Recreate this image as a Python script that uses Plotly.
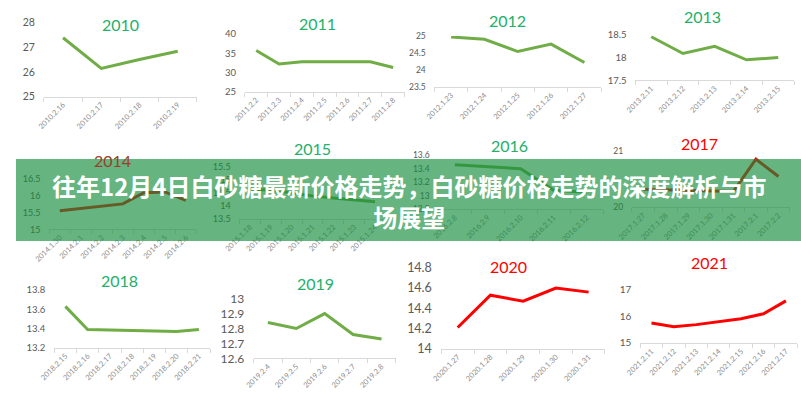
import plotly.graph_objects as go

W, H = 801, 400

# ---------------- data ----------------
dates_2010 = ["2010.2.16", "2010.2.17", "2010.2.18", "2010.2.19"]
price_2010 = [27.38, 26.14, 26.5, 26.83]

dates_2011 = ["2011.2.2", "2011.2.3", "2011.2.4", "2011.2.5", "2011.2.6", "2011.2.7", "2011.2.8"]
price_2011 = [35.7, 32.2, 32.8, 32.8, 32.8, 32.8, 31.3]

dates_2012 = ["2012.1.23", "2012.1.24", "2012.1.25", "2012.1.26", "2012.1.27"]
price_2012 = [24.97, 24.9, 24.54, 24.76, 24.22]

dates_2013 = ["2013.2.11", "2013.2.12", "2013.2.13", "2013.2.14", "2013.2.15"]
price_2013 = [18.46, 18.09, 18.25, 17.95, 18.0]

dates_2014 = ["2014.1.30", "2014.2.1", "2014.2.2", "2014.2.3", "2014.2.4", "2014.2.5", "2014.2.6"]
price_2014 = [15.55, 15.62, 15.68, 15.75, 16.08, 16.1, 15.85]

dates_2015 = ["2015.1.18", "2015.1.19", "2015.1.20", "2015.1.21", "2015.1.22", "2015.1.23", "2015.1.24"]
price_2015 = [14.65, 14.6, 14.5, 14.38, 14.3, 14.22, 14.16]

dates_2016 = ["2016.2.8", "2016.2.9", "2016.2.10", "2016.2.11", "2016.2.12"]
price_2016 = [13.46, 13.43, 13.4, 13.08, 13.05]

dates_2017 = ["2017.1.27", "2017.1.28", "2017.1.29", "2017.1.30", "2017.1.31", "2017.2.1", "2017.2.2"]
price_2017 = [20.32, 20.31, 20.3, 20.29, 20.28, 20.86, 20.55]

dates_2018 = ["2018.2.15", "2018.2.16", "2018.2.17", "2018.2.18", "2018.2.19", "2018.2.20", "2018.2.21"]
price_2018 = [13.63, 13.39, 13.385, 13.38, 13.375, 13.37, 13.39]

dates_2019 = ["2019.2.4", "2019.2.5", "2019.2.6", "2019.2.7", "2019.2.8"]
price_2019 = [12.84, 12.8, 12.9, 12.76, 12.73]

dates_2020 = ["2020.1.27", "2020.1.28", "2020.1.29", "2020.1.30", "2020.1.31"]
price_2020 = [14.21, 14.53, 14.47, 14.6, 14.56]

dates_2021 = ["2021.2.11", "2021.2.12", "2021.2.13", "2021.2.14", "2021.2.15", "2021.2.16", "2021.2.17"]
price_2021 = [15.74, 15.6, 15.68, 15.78, 15.9, 16.08, 16.56]

years = ["2010", "2011", "2012", "2013", "2014", "2015", "2016", "2017", "2018", "2019", "2020", "2021"]
all_dates = [dates_2010, dates_2011, dates_2012, dates_2013, dates_2014, dates_2015,
             dates_2016, dates_2017, dates_2018, dates_2019, dates_2020, dates_2021]
all_prices = [price_2010, price_2011, price_2012, price_2013, price_2014, price_2015,
              price_2016, price_2017, price_2018, price_2019, price_2020, price_2021]
y_ranges = [(25, 28), (25, 40), (23.5, 25), (17.5, 18.5), (15, 16.5), (13.5, 15.5),
             (12.8, 13.6), (20, 21), (13.2, 13.8), (12.6, 13.0), (14.0, 14.8), (15, 17)]
y_steps = [1, 5, 0.5, 0.5, 0.5, 0.5, 0.2, 1, 0.2, 0.1, 0.2, 1]

main_title = "往年12月4日白砂糖最新价格走势，白砂糖价格走势的深度解析与市<br>场展望"

# ---------------- layout / style (pixels) ----------------
# plot box: left, right, bottom(axis), top(max tick)
boxes = [(28.5, 184.5, 92, 15), (233.5, 396.5, 87, 27), (427, 597, 82, 29), (632, 794, 75, 28),
         (34, 184, 230, 177), (228, 377, 219, 165), (431, 599, 209, 153), (628.5, 789.5, 207, 149),
         (39, 198, 353, 293), (242.5, 387.5, 364, 302), (434, 601, 354, 270), (637, 797, 348, 292)]
title_pos = [(107, 17), (308, 16), (502, 13), (700, 9), (98, 158), (303, 146), (504, 143), (697, 141),
             (106, 283), (306, 286), (503, 269), (708, 264)]
ytick_size = [10.5, 9.5, 8.5, 9.5, 9, 9, 8.5, 8.5, 9.5, 12, 12.5, 10]
GREEN_LINE = "#70AD47"
GREEN_TITLE = "#22B06A"
RED = "#FF0000"
line_colors = [GREEN_LINE] * 4 + [RED, GREEN_LINE, GREEN_LINE, RED, GREEN_LINE, GREEN_LINE, RED, RED]
title_colors = [GREEN_TITLE] * 4 + ["#9B3D2A", GREEN_TITLE, GREEN_TITLE, RED, GREEN_TITLE, GREEN_TITLE, RED, RED]

fig = go.Figure()
layout = {}
annotations = []
for i in range(12):
    k = i + 1
    sx = "" if k == 1 else str(k)
    L, R, yb, yt = boxes[i]
    n = len(all_dates[i])
    fig.add_trace(go.Scatter(
        x=all_dates[i], y=all_prices[i], mode="lines",
        line=dict(color=line_colors[i], width=3),
        xaxis="x" + sx, yaxis="y" + sx, showlegend=False, hoverinfo="skip"))
    layout["xaxis" + sx] = dict(
        domain=[L / W, R / W], anchor="y" + sx, type="category",
        range=[-0.5, n - 0.5], showline=True, linecolor="#D9D9D9", linewidth=1,
        ticks="outside", tickson="boundaries", ticklen=4, tickcolor="#D9D9D9",
        tickangle=-45, tickfont=dict(size=7.5, color="#8C8C8C", family="Lato"),
        showgrid=False, zeroline=False, fixedrange=True)
    lo, hi = y_ranges[i]
    layout["yaxis" + sx] = dict(
        domain=[1 - yb / H, 1 - yt / H], anchor="x" + sx,
        range=[lo, hi], tick0=lo, dtick=y_steps[i],
        showgrid=False, zeroline=False, showline=False,
        ticks="outside", ticklen=6, tickcolor="rgba(0,0,0,0)",
        tickfont=dict(size=ytick_size[i], color="#595959", family="Lato"),
        fixedrange=True)
    cx, cy = title_pos[i]
    annotations.append(dict(
        text=years[i], x=cx / W, y=1 - cy / H, xref="paper", yref="paper",
        xanchor="center", yanchor="middle", showarrow=False,
        font=dict(size=16, color=title_colors[i], family="Lato")))

annotations.append(dict(
    text="<b>" + main_title + "</b>", x=0.5, y=1 - 200 / H, xref="paper", yref="paper",
    xanchor="center", yanchor="middle", showarrow=False, align="center",
    font=dict(size=24, color="#FFFFFF", family="Noto Sans CJK SC")))

fig.update_layout(
    width=W, height=H, margin=dict(l=0, r=0, t=0, b=0),
    paper_bgcolor="#FFFFFF", plot_bgcolor="rgba(0,0,0,0)",
    annotations=annotations,
    shapes=[dict(type="rect", xref="paper", yref="paper", x0=0, x1=1,
                 y0=1 - 242 / H, y1=1 - 157 / H, layer="above",
                 fillcolor="rgba(20,140,60,0.65)", line=dict(width=0))],
    **layout)

fig.write_html("out.html")
